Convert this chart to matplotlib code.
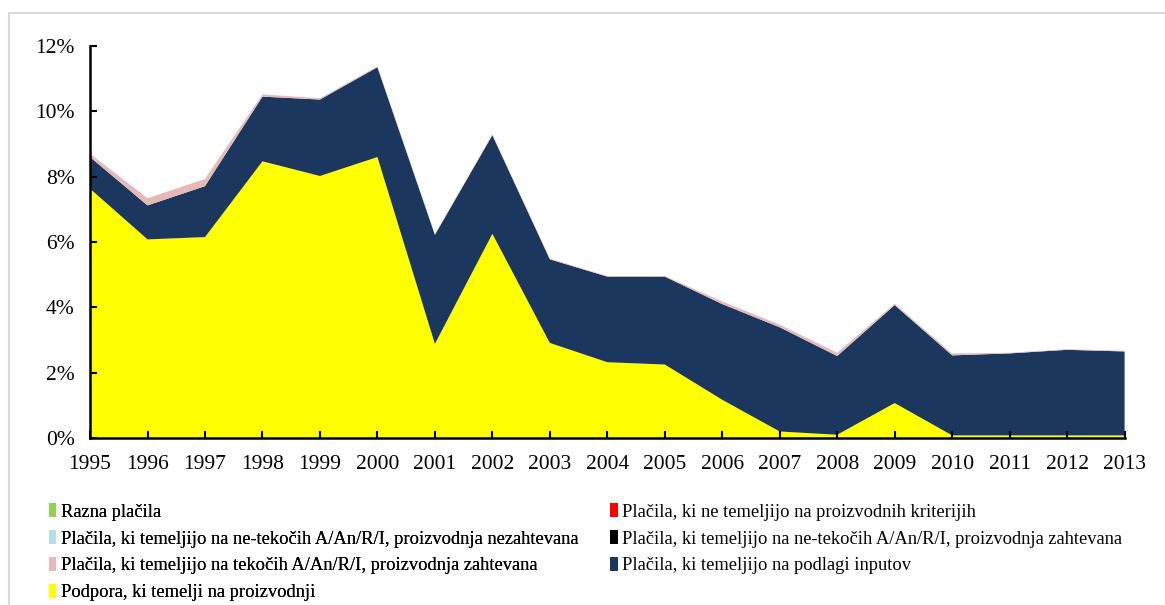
import matplotlib.pyplot as plt
import numpy as np
from matplotlib.patches import Rectangle, Patch

plt.rcParams['font.family'] = ['Liberation Serif', 'DejaVu Serif']

years = list(range(1995, 2014))

# stacked shares (% of gross farm receipts), bottom to top
podpora = [7.63, 6.08, 6.15, 8.47, 8.02, 8.60, 2.88, 6.25, 2.91, 2.32,
           2.25, 1.17, 0.20, 0.10, 1.07, 0.08, 0.08, 0.08, 0.08]
inputi = [0.97, 1.04, 1.56, 1.98, 2.34, 2.75, 3.34, 3.02, 2.56, 2.62,
          2.69, 2.93, 3.19, 2.41, 3.00, 2.45, 2.51, 2.62, 2.57]
tekoci = [0.10, 0.22, 0.22, 0.07, 0.04, 0.03, 0.02, 0.03, 0.02, 0.02,
          0.02, 0.08, 0.08, 0.10, 0.04, 0.06, 0.02, 0.02, 0.02]
netekoci_zaht = [0.0] * 19
netekoci_nezaht = [0.0] * 19
neproizvodni = [0.0] * 19
razna = [0.0] * 19

labels = ['Podpora, ki temelji na proizvodnji',
          'Plačila, ki temeljijo na podlagi inputov',
          'Plačila, ki temeljijo na tekočih A/An/R/I, proizvodnja zahtevana',
          'Plačila, ki temeljijo na ne-tekočih A/An/R/I, proizvodnja zahtevana',
          'Plačila, ki temeljijo na ne-tekočih A/An/R/I, proizvodnja nezahtevana',
          'Plačila, ki ne temeljijo na proizvodnih kriterijih',
          'Razna plačila']
colors = ['#FFFF00', '#1B375E', '#E6B9B8', '#000000', '#B7DEE8', '#FF0000', '#92D050']

fig = plt.figure(figsize=(11.65, 6.05), dpi=100)
ax = fig.add_axes([0.0773, 0.276, 0.888, 0.648])

ax.stackplot(years, podpora, inputi, tekoci, netekoci_zaht, netekoci_nezaht,
             neproizvodni, razna, colors=colors, linewidth=0)

ax.set_xlim(1995, 2013)
ax.set_ylim(0, 12)
ax.set_xticks(years)
ax.set_yticks(np.arange(0, 13, 2))
ax.set_yticklabels([f'{v}%' for v in range(0, 13, 2)])
ax.tick_params(axis='both', direction='in', length=5, width=1.5, labelsize=15.5)
ax.tick_params(axis='x', pad=12)
ax.tick_params(axis='y', pad=11)
for s in ['top', 'right']:
    ax.spines[s].set_visible(False)
for s in ['left', 'bottom']:
    ax.spines[s].set_linewidth(1.8)
ax.spines['bottom'].set_zorder(5)

# legend: two columns, filled row by row in the reference
leg_kw = dict(loc='upper left', frameon=False, fontsize=13.3,
              handlelength=0.4, handleheight=0.8, handletextpad=0.25,
              labelspacing=0.5, borderaxespad=0, borderpad=0)
col1 = [6, 4, 2, 0]
col2 = [5, 3, 1]
leg1 = fig.legend([Patch(facecolor=colors[i], edgecolor='none') for i in col1],
                  [labels[i] for i in col1], bbox_to_anchor=(0.042, 0.168), **leg_kw)
fig.legend([Patch(facecolor=colors[i], edgecolor='none') for i in col2],
           [labels[i] for i in col2], bbox_to_anchor=(0.524, 0.168), **leg_kw)
fig.add_artist(leg1)

fig.patches.append(Rectangle((9 / 1165, -0.1), 1.2, 1.1 - 13 / 605,
                             transform=fig.transFigure, fill=False,
                             edgecolor='#D9D9D9', linewidth=1.5))

fig.savefig('out.png', dpi=100)
